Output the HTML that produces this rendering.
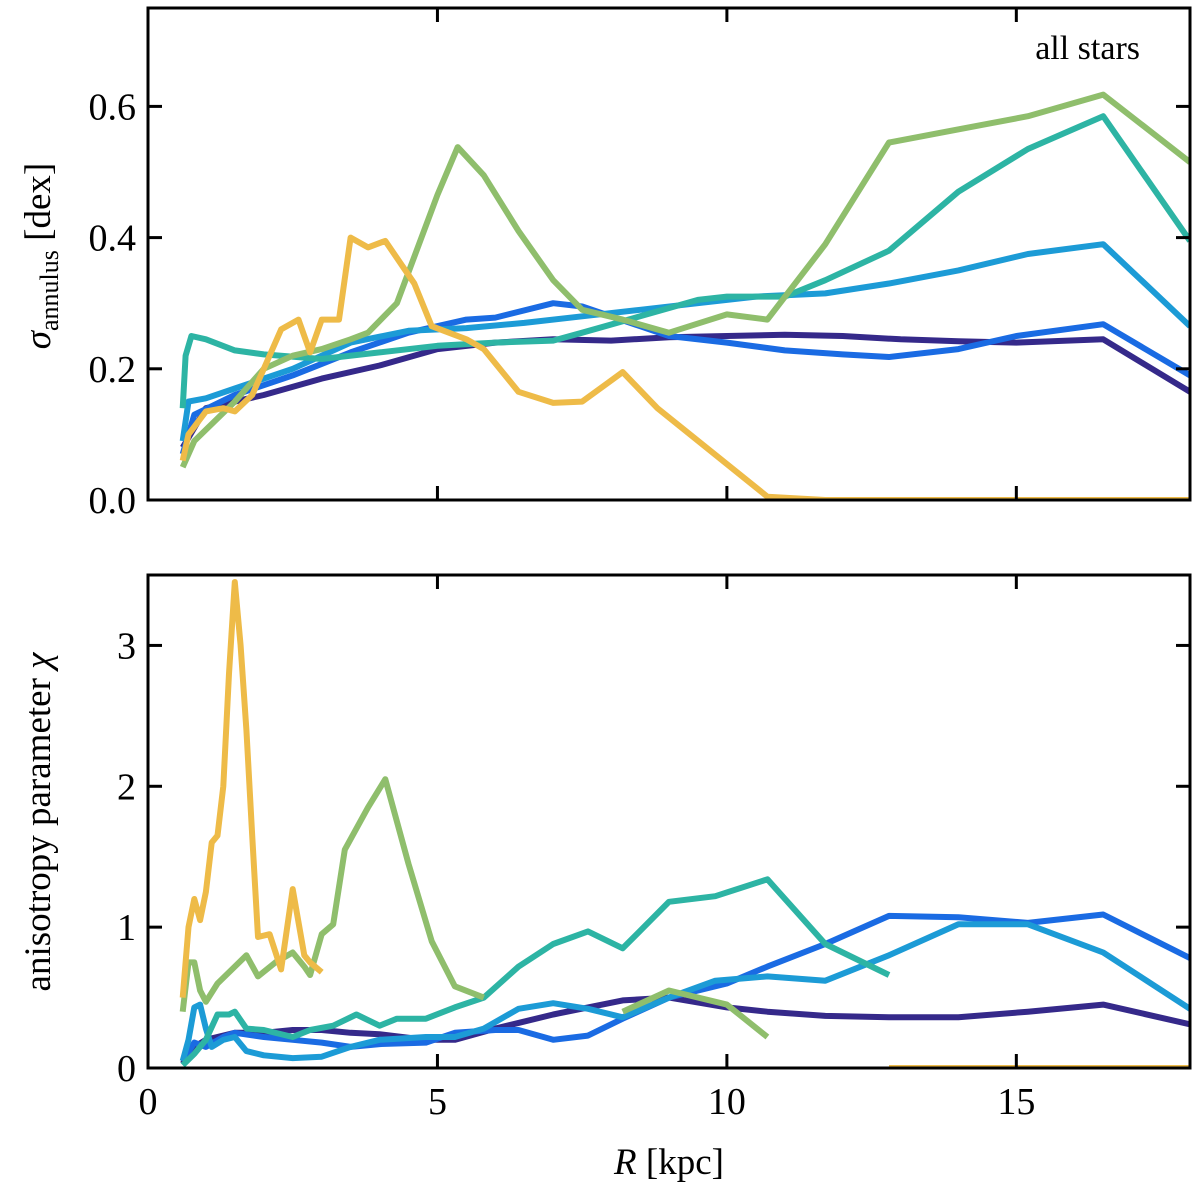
<!DOCTYPE html>
<html><head><meta charset="utf-8"><style>
body{margin:0;background:#fff}
svg{display:block;font-family:"Liberation Serif",serif}
</style></head><body>
<svg id="chart" width="1200" height="1196" viewBox="0 0 1200 1196"></svg>
<script>
const colors=["#35298a","#1a6be3","#1c9bd6","#2db4a4","#8fbe6c","#eebb48"];
const seriesNames=["purple","blue","light-blue","teal","green","orange"];
const topR=[
[0.6,1,2,3,4,5,6,7,8,9,10,11,12,13,14,15,16.5,18],
[0.6,0.8,1.5,2.5,3.5,4.5,5.5,6,7,7.5,8.5,9,10,11,12,12.8,14,15,16.5,18],
[0.6,0.7,1,1.5,2.5,3.5,4.5,5.5,6.5,7.5,8.5,9.5,10.5,11.7,12.8,14,15.2,16.5,18],
[0.6,0.65,0.75,1,1.5,2,3,4,5,6,7,7.5,8.5,9.5,10,11,11.7,12.8,14,15.2,16.5,18],
[0.6,0.8,1.5,2,2.5,3,3.5,3.8,4.3,5,5.35,5.8,6.4,7,7.5,8.2,9,10,10.7,11.7,12.8,15.2,16.5,18],
[0.6,0.7,1,1.3,1.5,1.8,2,2.3,2.6,2.8,3,3.3,3.5,3.8,4.1,4.6,4.9,5.5,5.8,6.4,7,7.5,8.2,8.8,10.7,11.7,18]];
const topV=[
[0.08,0.14,0.16,0.185,0.205,0.23,0.24,0.245,0.243,0.248,0.25,0.252,0.25,0.245,0.242,0.24,0.245,0.165],
[0.07,0.13,0.16,0.19,0.225,0.255,0.275,0.278,0.3,0.295,0.265,0.25,0.24,0.228,0.222,0.218,0.23,0.25,0.268,0.19],
[0.09,0.15,0.155,0.17,0.2,0.24,0.258,0.262,0.27,0.28,0.29,0.3,0.31,0.315,0.33,0.35,0.375,0.39,0.265],
[0.14,0.22,0.25,0.245,0.228,0.222,0.215,0.225,0.235,0.24,0.243,0.255,0.28,0.305,0.31,0.31,0.335,0.38,0.47,0.535,0.585,0.395],
[0.05,0.09,0.15,0.2,0.22,0.23,0.245,0.255,0.3,0.465,0.538,0.495,0.41,0.335,0.29,0.275,0.255,0.283,0.275,0.39,0.545,0.585,0.618,0.515],
[0.06,0.1,0.135,0.14,0.135,0.16,0.2,0.26,0.275,0.225,0.275,0.275,0.4,0.385,0.395,0.33,0.265,0.245,0.23,0.165,0.148,0.15,0.195,0.14,0.005,0,0]];
const botR=[
[0.6,0.8,1,1.5,2,2.5,3,3.5,4,4.8,5.3,6,7,8.2,9,10,10.7,11.7,12.8,14,15.2,16.5,18],
[0.6,0.8,1,1.3,1.5,2,2.5,3,3.5,4,4.8,5.3,6,6.4,7,7.6,8.2,9,10,10.7,11.7,12.8,14,15.2,16.5,18],
[0.6,0.7,0.8,0.9,1,1.1,1.3,1.5,1.7,2,2.5,3,3.5,4,4.8,5.3,5.8,6.4,7,7.6,8.2,9,9.8,10.7,11.7,12.8,14,15.2,16.5,18],
[0.6,0.8,1,1.2,1.4,1.5,1.7,2,2.5,2.8,3.2,3.6,4,4.3,4.8,5.3,5.8,6.4,7,7.6,8.2,9,9.8,10.7,11.7,12.8],
[0.6,0.7,0.8,0.9,1,1.2,1.5,1.7,1.9,2.2,2.5,2.7,2.8,3,3.2,3.4,3.8,4.1,4.5,4.9,5.3,5.8],
[0.6,0.7,0.8,0.9,1,1.1,1.2,1.3,1.4,1.5,1.6,1.7,1.8,1.9,2.1,2.3,2.5,2.7,2.8,3]];
const botV=[
[0.03,0.15,0.2,0.25,0.25,0.27,0.27,0.25,0.24,0.2,0.2,0.28,0.38,0.48,0.5,0.43,0.4,0.37,0.36,0.36,0.4,0.45,0.31],
[0.05,0.18,0.15,0.22,0.25,0.22,0.2,0.18,0.15,0.17,0.18,0.25,0.27,0.27,0.2,0.23,0.35,0.5,0.6,0.72,0.88,1.08,1.07,1.03,1.09,0.78],
[0.05,0.2,0.43,0.45,0.28,0.15,0.2,0.22,0.12,0.09,0.07,0.08,0.15,0.2,0.22,0.22,0.28,0.42,0.46,0.42,0.36,0.5,0.62,0.65,0.62,0.8,1.02,1.02,0.82,0.42],
[0.02,0.1,0.2,0.38,0.38,0.4,0.28,0.27,0.22,0.27,0.3,0.38,0.3,0.35,0.35,0.43,0.5,0.72,0.88,0.97,0.85,1.18,1.22,1.34,0.88,0.66],
[0.4,0.75,0.75,0.55,0.47,0.6,0.72,0.8,0.65,0.75,0.82,0.72,0.66,0.95,1.02,1.55,1.85,2.05,1.45,0.9,0.58,0.5],
[0.5,1.0,1.2,1.05,1.25,1.6,1.65,2.0,2.8,3.45,3.0,2.4,1.65,0.93,0.95,0.7,1.27,0.8,0.75,0.68]];
const greenTailR=[8.2,9,10,10.7];
const greenTailV=[0.4,0.55,0.45,0.22];
const orangeFlatR=[12.8,18];
const orangeFlatV=[0,0];
const xTicks=[0,5,10,15];
const topTicks=[0,0.2,0.4,0.6];
const botTicks=[0,1,2,3];

const NS="http://www.w3.org/2000/svg";
const svg=document.getElementById('chart');
function el(t,a,p){const e=document.createElementNS(NS,t);for(const k in a)e.setAttribute(k,a[k]);(p||svg).appendChild(e);return e;}
const L=148,R=1190;
const xs=v=>L+(v-0)/(18-0)*(R-L);
const panels=[{t:8,b:500,min:0,max:0.75,ticks:topTicks,fmt:v=>v.toFixed(1),rs:topR,vs:topV,name:'sigma-panel'},
{t:575,b:1068,min:0,max:3.5,ticks:botTicks,fmt:v=>String(v),rs:botR,vs:botV,name:'anisotropy-panel'}];
panels.forEach((p,pi)=>{
 const ys=v=>p.b-(v-p.min)/(p.max-p.min)*(p.b-p.t);
 const g=el('g',{});
 
 
 const clip=el('clipPath',{id:'c'+pi},g);el('rect',{x:L,y:p.t,width:R-L,height:p.b-p.t},clip);
 const lg=el('g',{'clip-path':'url(#c'+pi+')'},g);
 const draw=(rr,vv,ci,nm)=>{
  const d=rr.map((r,i)=>(i?'L':'M')+xs(r).toFixed(1)+','+ys(vv[i]).toFixed(1)).join('');
  const pth=el('path',{d:d,fill:'none',stroke:colors[ci],'stroke-width':6,'stroke-linejoin':'round'},lg);
  
  
 };
 p.rs.forEach((rr,i)=>draw(rr,p.vs[i],i,'line-'+seriesNames[i]));
 if(pi==1){draw(greenTailR,greenTailV,4,'line-green-tail');draw(orangeFlatR,orangeFlatV,5,'line-orange-flat');}
 const fr=el('rect',{x:L,y:p.t,width:R-L,height:p.b-p.t,fill:'none',stroke:'#000','stroke-width':3},g);
 
 
 xTicks.forEach(v=>{
  el('line',{x1:xs(v),x2:xs(v),y1:p.b,y2:p.b-14,stroke:'#000','stroke-width':3},g);
  el('line',{x1:xs(v),x2:xs(v),y1:p.t,y2:p.t+14,stroke:'#000','stroke-width':3},g);
  if(pi==1){const t=el('text',{x:xs(v),y:p.b+46,'font-size':38,'text-anchor':'middle'},g);t.textContent=v;
   
   }
 });
 p.ticks.forEach(v=>{
  el('line',{x1:L,x2:L+14,y1:ys(v),y2:ys(v),stroke:'#000','stroke-width':3},g);
  el('line',{x1:R-14,x2:R,y1:ys(v),y2:ys(v),stroke:'#000','stroke-width':3},g);
  const t=el('text',{x:L-12,y:ys(v)+13,'font-size':38,'text-anchor':'end'},g);t.textContent=p.fmt(v);
  
  
 });
});
</script>
<svg style="position:absolute;left:0;top:0" width="1200" height="1196">
<text transform="translate(50,256) rotate(-90)" text-anchor="middle" font-size="37" font-family="Liberation Serif, serif"><tspan font-style="italic">σ</tspan><tspan font-size="26" dy="8">annulus</tspan><tspan dy="-8"> [dex]</tspan></text>
<text transform="translate(50,822) rotate(-90)" text-anchor="middle" font-size="37" font-family="Liberation Serif, serif">anisotropy parameter <tspan font-style="italic">χ</tspan></text>
<text x="669" y="1174" text-anchor="middle" font-size="37" font-family="Liberation Serif, serif"><tspan font-style="italic">R</tspan> [kpc]</text>
<text x="1140" y="59" text-anchor="end" font-size="34" font-family="Liberation Serif, serif">all stars</text>
</svg>
</body></html>
